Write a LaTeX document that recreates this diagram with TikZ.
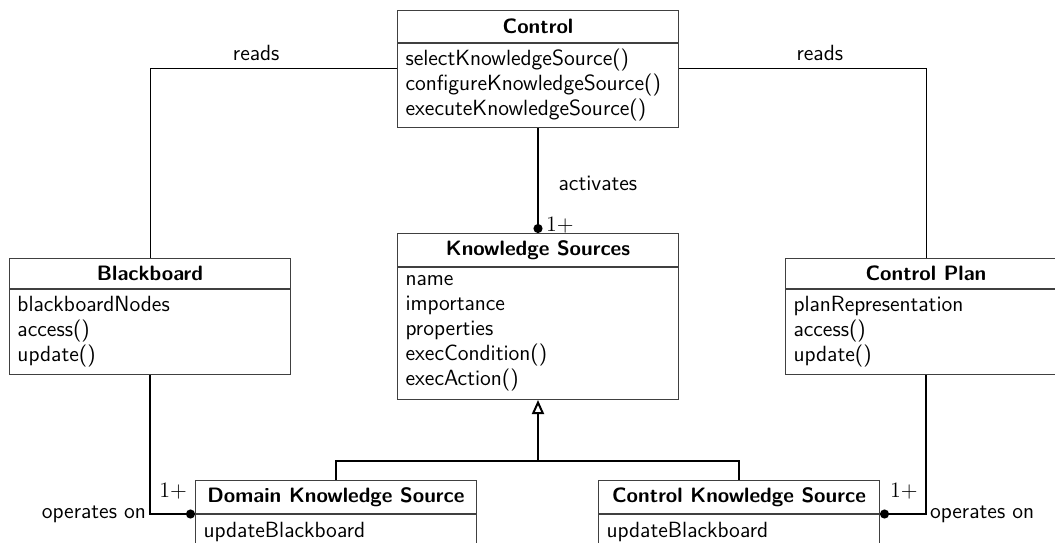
\documentclass[tikz,border=0pt]{standalone}
\usepackage{fontspec}
\renewcommand{\familydefault}{\sfdefault}
\usetikzlibrary{arrows.meta,calc}

\tikzset{
  % one unit = one pixel of the 1055 x 542 canvas, y grows downwards
  x=0.5pt, y=-0.5pt,
  every node/.style={font=\fontsize{11}{12.5}\selectfont},
  ctitle/.style={draw=black!75, line width=0.5pt, font=\fontsize{10.4}{12.5}\selectfont\bfseries,
    minimum width=140.5pt, minimum height=#1, inner sep=0pt, anchor=north west},
  cbody/.style={draw=black!75, line width=0.5pt, text width=132.5pt, inner xsep=4pt, inner ysep=0pt,
    minimum height=#1, align=left, anchor=north west},
  thinconn/.style={draw=black, line width=0.5pt},
  conn/.style={draw=black, line width=1pt},
  dot/.style={-{Circle[length=4.5pt]}},
  lbl/.style={inner sep=1.5pt},
  mult/.style={inner sep=0pt, font=\fontsize{11}{12.5}\selectfont\rmfamily},
}

\begin{document}
\begin{tikzpicture}
  \useasboundingbox (0,0) rectangle (1055,542);
  \clip (0,0) rectangle (1055,542);

  % Control
  \node[ctitle=16pt] (ctrl) at (397,10) {Control};
  \node[cbody=42pt] (ctrlb) at (ctrl.south west)
    {selectKnowledgeSource()\\configureKnowledgeSource()\\executeKnowledgeSource()};

  % Knowledge Sources
  \node[ctitle=16.5pt] (ks) at (397,233) {Knowledge Sources};
  \node[cbody=66pt] (ksb) at (ks.south west)
    {name\\importance\\properties\\execCondition()\\execAction()\\[3.5pt]};

  % Blackboard
  \node[ctitle=15pt] (bb) at (9,258) {Blackboard};
  \node[cbody=42.5pt] (bbb) at (bb.south west)
    {blackboardNodes\\access()\\update()};

  % Control Plan
  \node[ctitle=15pt] (cp) at (785,258) {Control Plan};
  \node[cbody=42.5pt] (cpb) at (cp.south west)
    {planRepresentation\\access()\\update()};

  % Domain Knowledge Source
  \node[ctitle=16.5pt] (dks) at (195,480) {Domain Knowledge Source};
  \node[cbody=17pt] (dksb) at (dks.south west) {updateBlackboard};

  % Control Knowledge Source
  \node[ctitle=16.5pt] (cks) at (598,480) {Control Knowledge Source};
  \node[cbody=17pt] (cksb) at (cks.south west) {updateBlackboard};

  % reads associations
  \draw[thinconn] (ctrlb.west |- 0,68) -| node[pos=0.285, above] {reads} (bb.north);
  \draw[thinconn] (ctrlb.east |- 0,68) -| node[pos=0.285, above] {reads} (cp.north);

  % activates
  \draw[conn, dot] (ctrlb.south) -- node[pos=0.53, anchor=west, xshift=6.5pt] {activates}
    node[at end, anchor=south west, mult, xshift=3.5pt, yshift=-0.5pt] {1+} (ks.north);

  % operates on
  \draw[conn, dot] (bbb.south) |- node[pos=0.5, anchor=east, lbl] {operates on}
    node[at end, anchor=south east, mult, xshift=-3.5pt, yshift=7pt] {1+} (dks.south west);
  \draw[conn, dot] (cpb.south) |- node[pos=0.5, anchor=west, lbl] {operates on}
    node[at end, anchor=south west, mult, xshift=4.5pt, yshift=7pt] {1+} (cks.south east);

  % generalization
  \coordinate (bus) at ($(ksb.south)+(0,61)$);
  \draw[conn] (dks.north) |- (bus) -| (cks.north);
  \draw[conn, -{Triangle[open, length=7pt, width=6pt]}] (bus) -- (ksb.south);
\end{tikzpicture}
\end{document}
